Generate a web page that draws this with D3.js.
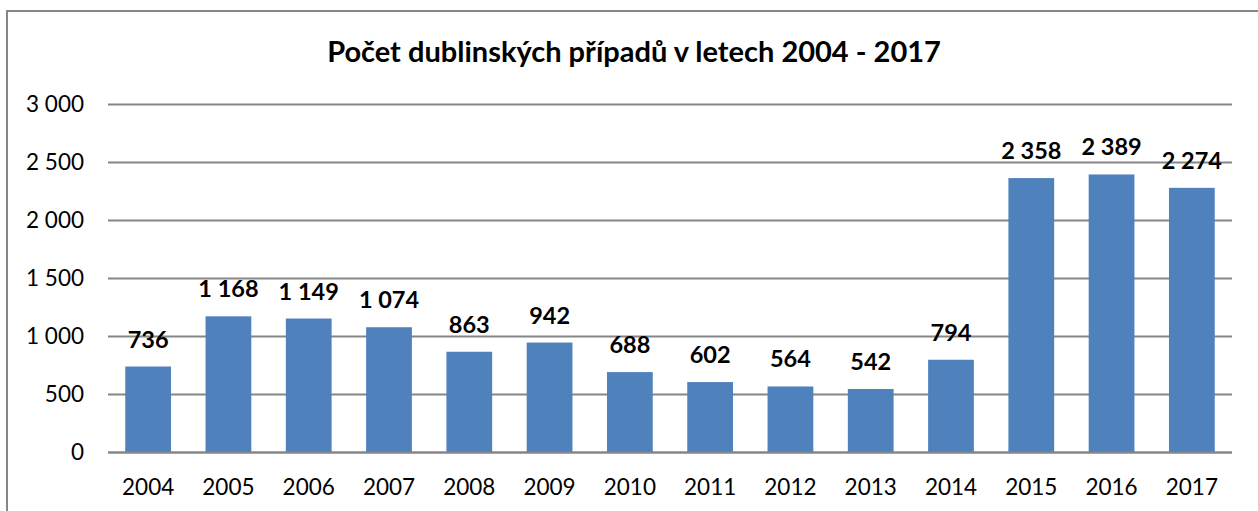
<!DOCTYPE html>
<html>
<head>
<meta charset="utf-8">
<script src="https://cdn.jsdelivr.net/npm/d3@7"></script>
<style>
  body { margin: 0; background: #fff; }
  svg text { font-family: Lato, "Open Sans", sans-serif; fill: #000; }
</style>
</head>
<body>
<svg width="1258" height="511"></svg>
<script>
// chart data
const years = ["2004", "2005", "2006", "2007", "2008", "2009", "2010",
               "2011", "2012", "2013", "2014", "2015", "2016", "2017"];
const cases = [736, 1168, 1149, 1074, 863, 942, 688, 602, 564, 542, 794, 2358, 2389, 2274];
const yTicks = [0, 500, 1000, 1500, 2000, 2500, 3000];
const title = "Počet dublinských případů v letech 2004 - 2017";

const svg = d3.select("svg");
const cz = d3.formatLocale({decimal: ",", thousands: "\u00a0", grouping: [3], currency: ["", " Kč"]});
const fmt = cz.format(",d");

// outer frame (only top and left visible in the original crop)
svg.append("path")
   .attr("d", "M7,511 L7,11 L1258,11")
   .attr("fill", "none")
   .attr("stroke", "#878787")
   .attr("stroke-width", 2);

const x = d3.scaleBand()
            .domain(years)
            .range([108, 1232])
            .paddingInner(0.43)
            .paddingOuter(0.215);

const y = d3.scaleLinear()
            .domain([0, 3000])
            .range([452, 103.5]);

// gridlines + y labels
const grid = svg.append("g");
grid.selectAll("line")
    .data(yTicks)
    .enter()
    .append("line")
    .attr("x1", 108)
    .attr("x2", 1232)
    .attr("y1", d => Math.round(y(d)) + 0.5)
    .attr("y2", d => Math.round(y(d)) + 0.5)
    .attr("stroke", "#868686")
    .attr("stroke-width", 2);

grid.selectAll("text")
    .data(yTicks)
    .enter()
    .append("text")
    .attr("x", 84)
    .attr("y", d => y(d))
    .attr("dy", "0.36em")
    .attr("text-anchor", "end")
    .style("font-size", "22.5px")
    .text(d => fmt(d));

// bars
svg.append("g")
   .selectAll("rect")
   .data(cases)
   .enter()
   .append("rect")
   .attr("x", (d, i) => x(years[i]))
   .attr("y", d => y(d))
   .attr("width", x.bandwidth())
   .attr("height", d => y(0) - y(d))
   .attr("fill", "#4F81BD");

// redraw the zero line on top of the bars
svg.append("line")
   .attr("x1", 108).attr("x2", 1232)
   .attr("y1", Math.round(y(0)) + 0.5).attr("y2", Math.round(y(0)) + 0.5)
   .attr("stroke", "#868686")
   .attr("stroke-width", 2);

// value labels
svg.append("g")
   .selectAll("text")
   .data(cases)
   .enter()
   .append("text")
   .attr("x", (d, i) => x(years[i]) + x.bandwidth() / 2)
   .attr("y", d => y(d) - 19)
   .attr("text-anchor", "middle")
   .style("font-size", "23.5px")
   .style("font-weight", "bold")
   .text(d => fmt(d));

// x labels
svg.append("g")
   .selectAll("text")
   .data(years)
   .enter()
   .append("text")
   .attr("x", d => x(d) + x.bandwidth() / 2)
   .attr("y", 495)
   .attr("text-anchor", "middle")
   .style("font-size", "22.5px")
   .text(d => d);

// title
svg.append("text")
   .attr("x", 634)
   .attr("y", 62)
   .attr("text-anchor", "middle")
   .style("font-size", "29px")
   .style("font-weight", "bold")
   .text(title);
</script>
</body>
</html>
